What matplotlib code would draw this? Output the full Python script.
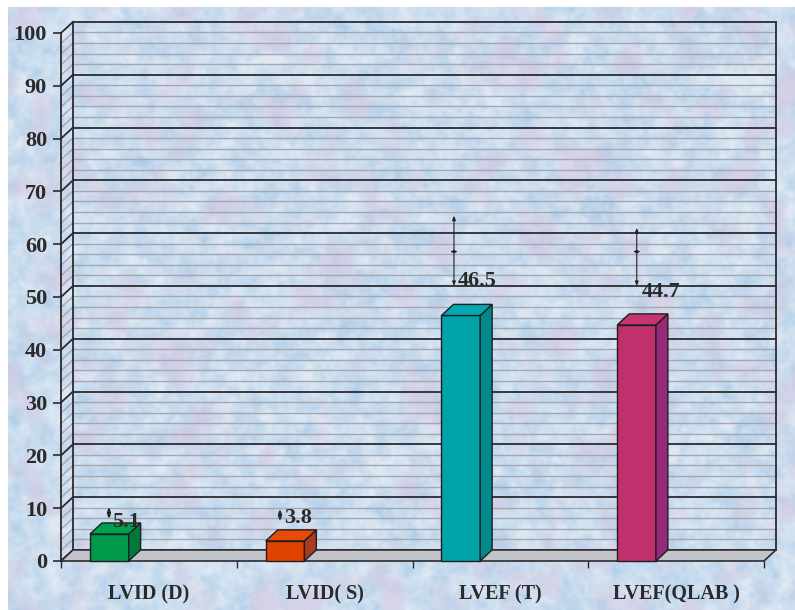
import numpy as np
import matplotlib
matplotlib.use("Agg")
import matplotlib.pyplot as plt
from matplotlib.patches import Polygon

categories = ["LVID (D)", "LVID( S)", "LVEF (T)", "LVEF(QLAB )"]
values = [5.1, 3.8, 46.5, 44.7]

# error markers: x position (category units), centre, low, high
err_x = [0.273, 1.246, 2.236, 3.276]
err_mid = [9.1, 8.7, 58.6, 58.6]
err_lo = [8.1, 7.7, 52.1, 52.1]
err_hi = [10.1, 9.7, 65.4, 63.1]

yticks = list(range(0, 101, 10))

front_cols = ["#00994a", "#e04300", "#00a3a8", "#c0306c"]
side_cols = ["#007a3c", "#a83c22", "#008a8c", "#962a78"]
top_cols = ["#00a04e", "#e84a08", "#00aab0", "#c8346e"]
label_off = [(15.8, 5), (13, 13), (11.5, 21), (17.3, 20)]

W, H = 795, 610
DX, DY = 0.0680, 2.1         # depth of the 3-D box in data units
BAR_X0, BAR_W = 0.165, 0.22
DARK = "#2b2b2f"
GRID = "#a4a6b0"
TXT = "#2a2a2a"
FONT = "Liberation Serif"


def smooth_noise(shape, sigma, rng):
    n = rng.standard_normal(shape)
    fy = np.fft.fftfreq(shape[0])[:, None]
    fx = np.fft.fftfreq(shape[1])[None, :]
    g = np.exp(-2 * (np.pi * sigma) ** 2 * (fx ** 2 + fy ** 2))
    out = np.real(np.fft.ifft2(np.fft.fft2(n) * g))
    return (out - out.mean()) / out.std()


def marble(h, w):
    rng = np.random.default_rng(7)
    light = 0.6 * smooth_noise((h, w), 5, rng) + 0.4 * smooth_noise((h, w), 1.8, rng)
    hue = smooth_noise((h, w), 9, rng)
    deep = np.array([172, 204, 232]) / 255
    white = np.array([224, 233, 243]) / 255
    pink = np.array([214, 198, 224]) / 255
    a = np.clip(0.6 + 0.22 * light, 0, 1)[..., None]
    b = np.clip(0.28 * hue, 0, 0.55)[..., None]
    img = deep * (1 - a) + white * a
    img = img * (1 - b) + pink * b
    img[:7, :] = 1.0
    img[:, :8] = 1.0
    return img


fig = plt.figure(figsize=(W / 100, H / 100), dpi=100)
bg = fig.add_axes([0, 0, 1, 1])
bg.imshow(marble(H, W), aspect="auto", interpolation="bilinear")
bg.set_axis_off()

ax = fig.add_axes([61 / W, (H - 561) / H, (764 - 61) / W, (561 - 33) / H])
ax.patch.set_visible(False)
ax.set_xlim(0, 4)
ax.set_ylim(0, 100)
for s in ["top", "right", "bottom"]:
    ax.spines[s].set_visible(False)
ax.spines["left"].set_color(DARK)
ax.spines["left"].set_linewidth(1.3)

# back wall and side wall grid
for v in np.arange(0, 101, 2):
    major = v % 10 == 0
    c = DARK if major else GRID
    lw = 1.3 if major else 1.0
    ax.plot([DX, 4 + DX], [v + DY, v + DY], color=c, lw=lw, clip_on=False, zorder=1)
    ax.plot([0, DX], [v, v + DY], color=c, lw=lw, clip_on=False, zorder=1)
ax.plot([DX, DX], [DY, 100 + DY], color=DARK, lw=1.3, clip_on=False, zorder=2)
ax.plot([4 + DX, 4 + DX], [DY, 100 + DY], color=DARK, lw=1.3, clip_on=False, zorder=2)

# floor
ax.add_patch(Polygon([(0, 0), (4, 0), (4 + DX, DY), (DX, DY)], closed=True,
                     facecolor="#c3c4c9", edgecolor=DARK, lw=1.2, clip_on=False, zorder=3))

# bars
for i, v in enumerate(values):
    x0 = i + BAR_X0
    x1 = x0 + BAR_W
    kw = dict(closed=True, edgecolor="#1e1e22", lw=1.0, clip_on=False, zorder=4)
    ax.add_patch(Polygon([(x0, 0), (x1, 0), (x1, v), (x0, v)], facecolor=front_cols[i], **kw))
    ax.add_patch(Polygon([(x1, 0), (x1 + DX, DY), (x1 + DX, v + DY), (x1, v)],
                         facecolor=side_cols[i], **kw))
    ax.add_patch(Polygon([(x0, v), (x1, v), (x1 + DX, v + DY), (x0 + DX, v + DY)],
                         facecolor=top_cols[i], **kw))
    ax.annotate(f"{v}", xy=(x0, v), xytext=label_off[i], textcoords="offset points",
                ha="left", va="baseline", fontsize=16, fontweight="bold",
                family=FONT, color=TXT, zorder=6, annotation_clip=False)

# error markers
for i in range(len(values)):
    x, m, lo, hi = err_x[i], err_mid[i], err_lo[i], err_hi[i]
    big = hi - lo > 4
    ax.annotate("", xy=(x, hi), xytext=(x, lo), zorder=5, annotation_clip=False,
                arrowprops=dict(arrowstyle="<|-|>,head_length=0.25,head_width=0.1" if big
                                else "<|-|>,head_length=0.15,head_width=0.08",
                                color="#222", lw=0.8, shrinkA=0, shrinkB=0))
    half = 0.022 if big else 0.016
    ax.annotate("", xy=(x + half, m), xytext=(x - half, m), zorder=5, annotation_clip=False,
                arrowprops=dict(arrowstyle="<|-|>,head_length=0.2,head_width=0.08",
                                color="#222", lw=0.8, shrinkA=0, shrinkB=0))

ax.set_yticks(yticks)
ax.set_yticklabels([str(t) for t in yticks], fontsize=16, fontweight="bold",
                   family=FONT, color=TXT)
ax.tick_params(axis="y", direction="out", length=6, width=1.2, color=DARK, pad=4)

ax.set_xticks(range(5))
ax.set_xticklabels([])
ax.tick_params(axis="x", which="major", direction="out", length=5, width=1.0, color=DARK)
ax.set_xticks(np.arange(len(categories)) + 0.5, minor=True)
ax.set_xticklabels(categories, minor=True, fontsize=14.5, fontweight="bold",
                   family=FONT, color=TXT)
ax.tick_params(axis="x", which="minor", length=0, pad=17)

fig.savefig("out.png", dpi=100)
